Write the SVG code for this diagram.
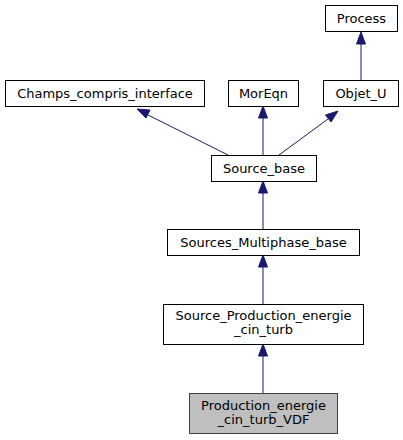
<svg xmlns="http://www.w3.org/2000/svg" width="403" height="440" viewBox="0 0 403 440">
<style>
.n rect{fill:#fff;stroke:#000;stroke-width:1}
.n.h rect{fill:#bfbfbf;stroke:#404040}
text{font-family:"DejaVu Sans",sans-serif;font-size:13px;fill:#000;text-anchor:middle}
.e line{stroke:#191970;stroke-width:1}
.e polygon{fill:#191970;stroke:#191970}
</style>
<rect width="403" height="440" fill="#fff"/>
<g class="e" id="edges">
<line x1="361" y1="80" x2="361" y2="44"/><polygon points="361,32 356.5,44 365.5,44"/>
<line x1="228" y1="155" x2="148" y2="115"/><polygon points="137,109 146,118 150,110"/>
<line x1="263" y1="155" x2="263" y2="118"/><polygon points="263,106 258.5,118 267.5,118"/>
<line x1="279" y1="155" x2="328" y2="119"/><polygon points="338,111 325.5,115 331,122"/>
<line x1="263" y1="229" x2="263" y2="193"/><polygon points="263,181 258.5,193 267.5,193"/>
<line x1="263" y1="304" x2="263" y2="267"/><polygon points="263,255 258.5,267 267.5,267"/>
<line x1="263" y1="393" x2="263" y2="356"/><polygon points="263,344 258.5,356 267.5,356"/>
</g>
<g class="n" id="Process"><rect x="325.5" y="5.5" width="72" height="26"/><text x="361.5" y="22.5">Process</text></g>
<g class="n" id="Champs_compris_interface"><rect x="5.5" y="80.5" width="199" height="26"/><text x="105" y="97.5">Champs_compris_interface</text></g>
<g class="n" id="MorEqn"><rect x="228.5" y="80.5" width="70" height="26"/><text x="263.5" y="97.5">MorEqn</text></g>
<g class="n" id="Objet_U"><rect x="323.5" y="80.5" width="75" height="26"/><text x="361" y="97.5">Objet_U</text></g>
<g class="n" id="Source_base"><rect x="211.5" y="155.5" width="105" height="26"/><text x="264" y="172.5">Source_base</text></g>
<g class="n" id="Sources_Multiphase_base"><rect x="167.5" y="229.5" width="192" height="26"/><text x="263.5" y="246.5">Sources_Multiphase_base</text></g>
<g class="n" id="Source_Production_energie_cin_turb"><rect x="163.5" y="304.5" width="200" height="40"/><text x="263.5" y="320">Source_Production_energie</text><text x="263.5" y="334">_cin_turb</text></g>
<g class="n h" id="Production_energie_cin_turb_VDF"><rect x="189.5" y="393.5" width="148" height="40"/><text x="263.5" y="410">Production_energie</text><text x="263.5" y="424">_cin_turb_VDF</text></g>
</svg>
